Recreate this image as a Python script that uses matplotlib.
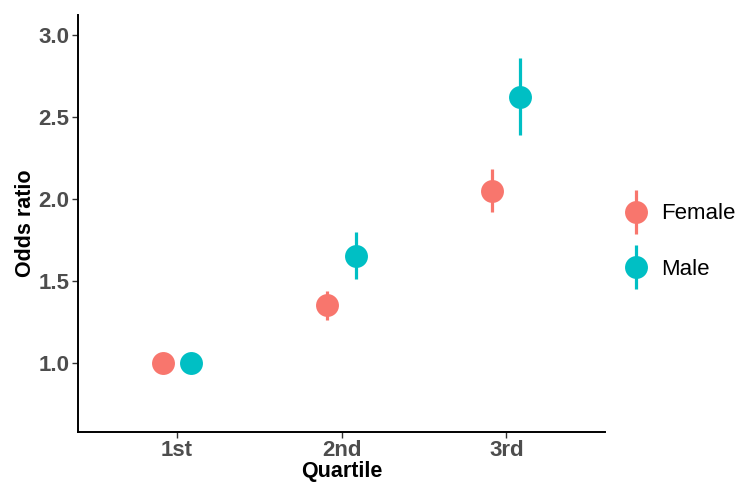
import matplotlib
matplotlib.use("Agg")
import matplotlib.pyplot as plt
from matplotlib.lines import Line2D
from matplotlib.legend_handler import HandlerTuple
import numpy as np

plt.rcParams['font.family'] = ['Liberation Sans', 'DejaVu Sans']

quartiles = ["1st", "2nd", "3rd"]
groups = ["Female", "Male"]
colors = {"Female": "#F8766D", "Male": "#00BFC4"}
or_female = [1.00, 1.35, 2.05]
lo_female = [1.00, 1.26, 1.92]
hi_female = [1.00, 1.44, 2.18]
or_male = [1.00, 1.65, 2.62]
lo_male = [1.00, 1.51, 2.39]
hi_male = [1.00, 1.80, 2.86]

data = {
    "Female": (or_female, lo_female, hi_female),
    "Male": (or_male, lo_male, hi_male),
}

fig = plt.figure(figsize=(7.4, 4.83), dpi=100)
ax = fig.add_axes([0.105, 0.106, 0.713, 0.863])

x = np.arange(1, len(quartiles) + 1)
offsets = {"Female": -0.085, "Male": 0.085}
MS = 16.5
handles = []
for g in groups:
    est, lo, hi = data[g]
    est = np.array(est); lo = np.array(lo); hi = np.array(hi)
    xs = x + offsets[g]
    ax.vlines(xs, lo, hi, color=colors[g], lw=2.3, zorder=2)
    ax.plot(xs, est, 'o', color=colors[g], ms=MS, zorder=3, mec='none')
    hv = Line2D([], [], marker='|', ls='none', color=colors[g], ms=31, mew=2.3)
    hp = Line2D([], [], marker='o', ls='none', color=colors[g], ms=MS, mec='none')
    handles.append((hv, hp))

ax.set_xlim(0.4, 3.6)
ax.set_ylim(0.58, 3.12)
ax.set_xticks(x)
ax.set_xticklabels(quartiles)
ax.set_yticks([1.0, 1.5, 2.0, 2.5, 3.0])
ax.set_yticklabels(["1.0", "1.5", "2.0", "2.5", "3.0"])
for s in ["top", "right"]:
    ax.spines[s].set_visible(False)
for s in ["left", "bottom"]:
    ax.spines[s].set_linewidth(1.4)
    ax.spines[s].set_color("black")
ax.tick_params(axis='both', length=4, width=1, color='#333333', labelsize=16,
               labelcolor='#4D4D4D', pad=2)
for lab in ax.get_xticklabels() + ax.get_yticklabels():
    lab.set_fontweight('bold')
ax.set_xlabel("Quartile", fontsize=15.5, fontweight='bold', labelpad=0)
ax.set_ylabel("Odds ratio", fontsize=15.5, fontweight='bold', labelpad=2)

leg = fig.legend(handles, groups, loc='center left', bbox_to_anchor=(0.815, 0.5),
                 frameon=False, fontsize=16, handlelength=1.2, handletextpad=0.5,
                 labelspacing=1.55, handler_map={tuple: HandlerTuple(ndivide=1)})

fig.savefig("out.png", dpi=100)
